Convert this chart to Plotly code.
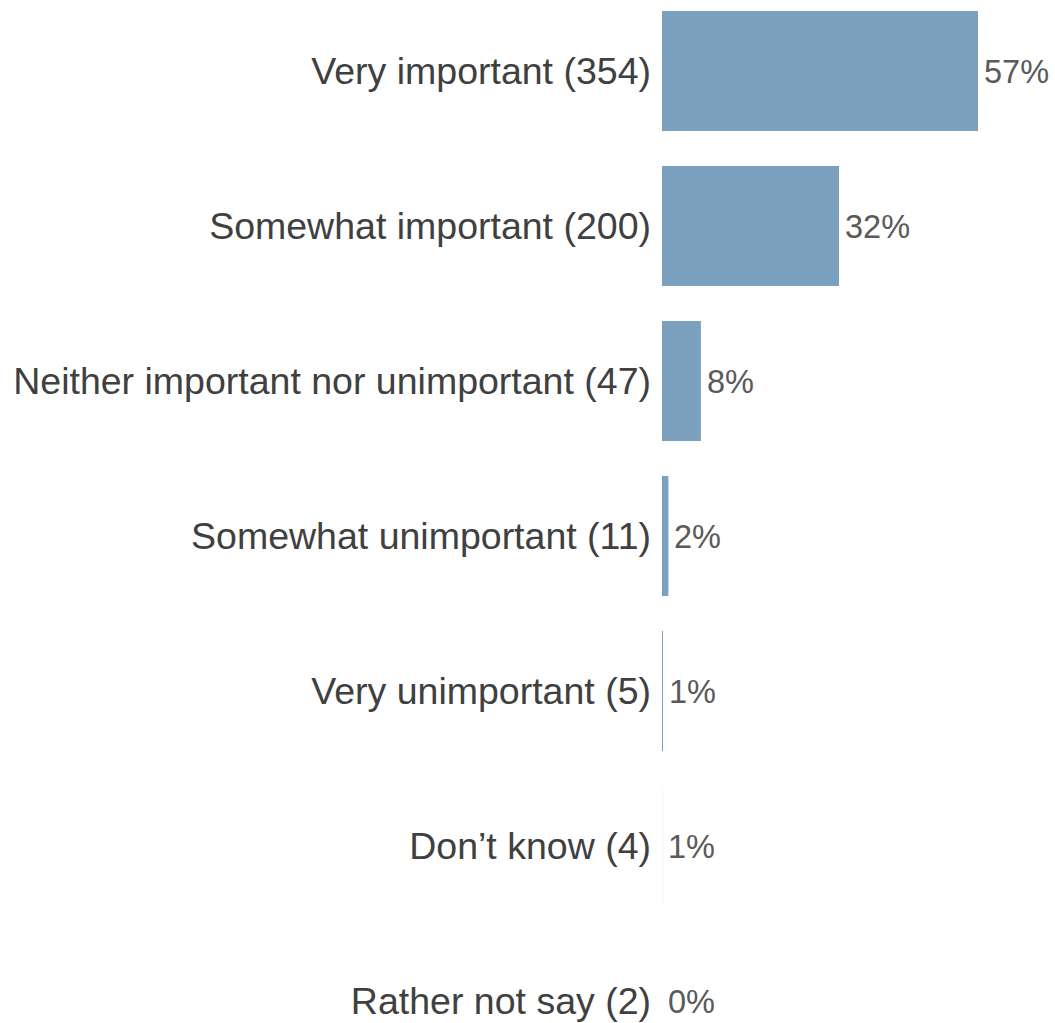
import plotly.graph_objects as go

categories = [
    "Very important",
    "Somewhat important",
    "Neither important nor unimportant",
    "Somewhat unimportant",
    "Very unimportant",
    "Don\u2019t know",
    "Rather not say",
]
counts = [354, 200, 47, 11, 5, 4, 2]

total = sum(counts)
percents = [round(100 * c / total) for c in counts]
labels = [f"{cat} ({n})" for cat, n in zip(categories, counts)]
pct_text = [f"{p}%" for p in percents]

x_start = 3.9
x_end = 439.3
n = len(categories)
FONT = "Liberation Sans, Arial, sans-serif"

fig = go.Figure()
fig.add_trace(go.Bar(
    x=counts,
    y=labels,
    orientation="h",
    width=0.775,
    marker=dict(color="#7BA1BF", line=dict(width=0)),
    hoverinfo="skip",
    showlegend=False,
))

for lab, c, t in zip(labels, counts, pct_text):
    fig.add_annotation(
        x=max(c, x_start), y=lab,
        text=t, showarrow=False,
        xanchor="left", yanchor="middle",
        xshift=4, yshift=-1,
        font=dict(family=FONT, size=32.5, color="#5A5A5A"),
    )

fig.update_layout(
    width=1055,
    height=1023,
    margin=dict(l=662, r=0, t=0, b=0),
    paper_bgcolor="white",
    plot_bgcolor="white",
    font=dict(family=FONT),
    hovermode=False,
    xaxis=dict(range=[x_start, x_end], visible=False, showgrid=False, zeroline=False),
    yaxis=dict(
        categoryorder="array",
        categoryarray=labels,
        range=[n - 1 + (1023 - 1001) / 155, -71 / 155],
        showgrid=False,
        zeroline=False,
        showline=False,
        ticks="",
        ticklabelstandoff=10,
        tickfont=dict(family=FONT, size=37.5, color="#404040"),
    ),
)

fig.write_html(
    "out.html",
    config={"displayModeBar": False},
    post_script="document.body.style.margin='0';document.body.style.overflow='hidden';",
)
